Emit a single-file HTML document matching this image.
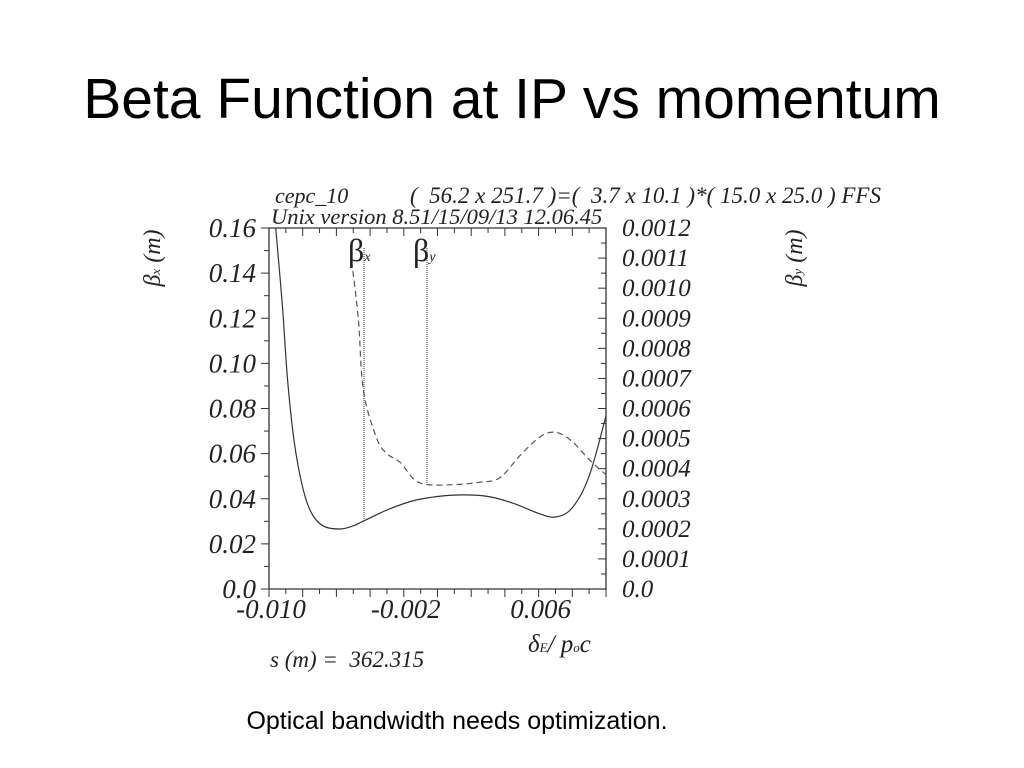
<!DOCTYPE html>
<html><head><meta charset="utf-8"><style>
body{margin:0;background:#fff;width:1024px;height:768px;overflow:hidden}
svg{display:block}
.t{font-family:"Liberation Serif",serif;font-style:italic;fill:#222}
</style></head><body>
<svg id="c" width="1024" height="768">
<text x="512" y="118" text-anchor="middle" font-family="Liberation Sans, sans-serif" font-size="57" fill="#000">Beta Function at IP vs momentum</text>
<text x="457" y="729" text-anchor="middle" font-family="Liberation Sans, sans-serif" font-size="25" fill="#000">Optical bandwidth needs optimization.</text>
<text class="t" x="275" y="203" font-size="22">cepc_10</text>
<text class="t" x="410" y="203" font-size="23" xml:space="preserve">(  56.2 x 251.7 )=(  3.7 x 10.1 )*( 15.0 x 25.0 ) FFS</text>
<text class="t" x="271" y="224" font-size="22.5">Unix version 8.51/15/09/13  12.06.45</text>
<text class="t" x="160" y="258" font-size="24" text-anchor="middle" transform="rotate(-90 160 258)">β<tspan font-size="13">x</tspan> (m)</text>
<text class="t" x="802" y="258" font-size="24" text-anchor="middle" transform="rotate(-90 802 258)">β<tspan font-size="13">y</tspan> (m)</text>
<text class="t" x="528" y="652" font-size="25">δ<tspan font-size="13">E</tspan>/ p<tspan font-size="13">o</tspan>c</text>
<text class="t" x="270" y="667" font-size="23" xml:space="preserve">s (m) =  362.315</text>
<g id="g"></g>
</svg>
<script>
const xTicks=[-0.010,-0.002,0.006];
const yLeftTicks=[0,0.02,0.04,0.06,0.08,0.10,0.12,0.14,0.16];
const yLeftLabels=["0.0","0.02","0.04","0.06","0.08","0.10","0.12","0.14","0.16"];
const yRightLabels=["0.0","0.0001","0.0002","0.0003","0.0004","0.0005","0.0006","0.0007","0.0008","0.0009","0.0010","0.0011","0.0012"];
const betaXdelta=[-0.0096,-0.0092,-0.0089,-0.0085,-0.0080,-0.0075,-0.0068,-0.0058,-0.0050,-0.0044,-0.0030,-0.0015,0.0000,0.0015,0.0030,0.0045,0.0060,0.0070,0.0080,0.0090,0.0100];
const betaX=[0.160,0.125,0.093,0.065,0.045,0.034,0.028,0.0266,0.028,0.0301,0.035,0.039,0.041,0.0417,0.041,0.038,0.0335,0.0319,0.036,0.050,0.0767];
const betaYdelta=[-0.0051,-0.0047,-0.0044,-0.0036,-0.0030,-0.0022,-0.0014,-0.0006,0.0010,0.0025,0.0037,0.0050,0.0062,0.0071,0.0080,0.0090,0.0100];
const betaY=[0.00109,0.00090,0.00066,0.00050,0.00045,0.00042,0.000365,0.000347,0.000347,0.000355,0.00037,0.00045,0.00051,0.00052,0.00049,0.00043,0.00038];
const markerX=-0.00436, markerY=-0.000625;
const X0=269,X1=606,Y0=589,Y1=228;
const xs=v=>X0+(v+0.010)/0.020*(X1-X0);
const yl=v=>Y0-v/0.16*(Y0-Y1);
const yr=v=>Y0-v/0.0012*(Y0-Y1);
const g=document.getElementById('g');const NS='http://www.w3.org/2000/svg';
function mk(t,a,p){const e=document.createElementNS(NS,t);for(const k in a)e.setAttribute(k,a[k]);(p||g).appendChild(e);return e;}
const frame=mk('path',{d:`M${X0} ${Y1}H${X1}V${Y0}H${X0}Z`,fill:'none',stroke:'#333','stroke-width':1.3});


for(let i=0;i<=20;i++){const x=xs(-0.010+i*0.001);const L=i%2==0?8:5;
mk('line',{x1:x,x2:x,y1:Y0,y2:Y0+L,stroke:'#333'});mk('line',{x1:x,x2:x,y1:Y1,y2:Y1+L,stroke:'#333'});}
xTicks.forEach(v=>{const t=mk('text',{x:xs(v)+2,y:Y0+29,'text-anchor':'middle','font-size':27,class:'t'});t.textContent=v.toFixed(3);

});
for(let i=0;i<=16;i++){const y=yl(i*0.01);const L=i%2==0?8:5;mk('line',{x1:X0-L,x2:X0,y1:y,y2:y,stroke:'#333'});}
yLeftTicks.forEach((v,i)=>{const t=mk('text',{x:X0-13,y:yl(v)+9,'text-anchor':'end','font-size':27,class:'t'});t.textContent=yLeftLabels[i];

});
for(let i=0;i<=24;i++){const y=yr(i*0.00005);const L=i%2==0?8:5;mk('line',{x1:X1-L,x2:X1,y1:y,y2:y,stroke:'#333'});}
yRightLabels.forEach((s,i)=>{const t=mk('text',{x:X1+16,y:yr(i*0.0001)+8,'font-size':25,class:'t'});t.textContent=s;

});
function path(xa,ya,f){const p=xa.map((v,i)=>[xs(v),f(ya[i])]);let d=`M${p[0][0].toFixed(1)} ${p[0][1].toFixed(1)}`;
for(let i=0;i<p.length-1;i++){const a=p[Math.max(0,i-1)],b=p[i],c=p[i+1],e=p[Math.min(p.length-1,i+2)];
const c1=[b[0]+(c[0]-a[0])/6,b[1]+(c[1]-a[1])/6],c2=[c[0]-(e[0]-b[0])/6,c[1]-(e[1]-b[1])/6];
d+=`C${c1[0].toFixed(1)} ${c1[1].toFixed(1)} ${c2[0].toFixed(1)} ${c2[1].toFixed(1)} ${c[0].toFixed(1)} ${c[1].toFixed(1)}`;}return d;}
const sx=mk('path',{d:path(betaXdelta,betaX,yl),fill:'none',stroke:'#333','stroke-width':1.2});


const sy=mk('path',{d:path(betaYdelta,betaY,yr),fill:'none',stroke:'#555','stroke-width':1.2,'stroke-dasharray':'6 4'});


const mx=mk('line',{x1:xs(markerX),x2:xs(markerX),y1:248,y2:yl(0.0301),stroke:'#333','stroke-dasharray':'1 1'});


const my=mk('line',{x1:xs(markerY),x2:xs(markerY),y1:248,y2:yr(0.000347),stroke:'#333','stroke-dasharray':'1 1'});


const lx=mk('text',{x:xs(markerX)-16,y:261,'font-size':32,fill:'#222','font-family':'Liberation Serif, serif'});lx.innerHTML='β<tspan font-size="14" font-style="italic">x</tspan>';


const ly=mk('text',{x:xs(markerY)-14,y:261,'font-size':32,fill:'#222','font-family':'Liberation Serif, serif'});ly.innerHTML='β<tspan font-size="14" font-style="italic">y</tspan>';


</script>
</body></html>
